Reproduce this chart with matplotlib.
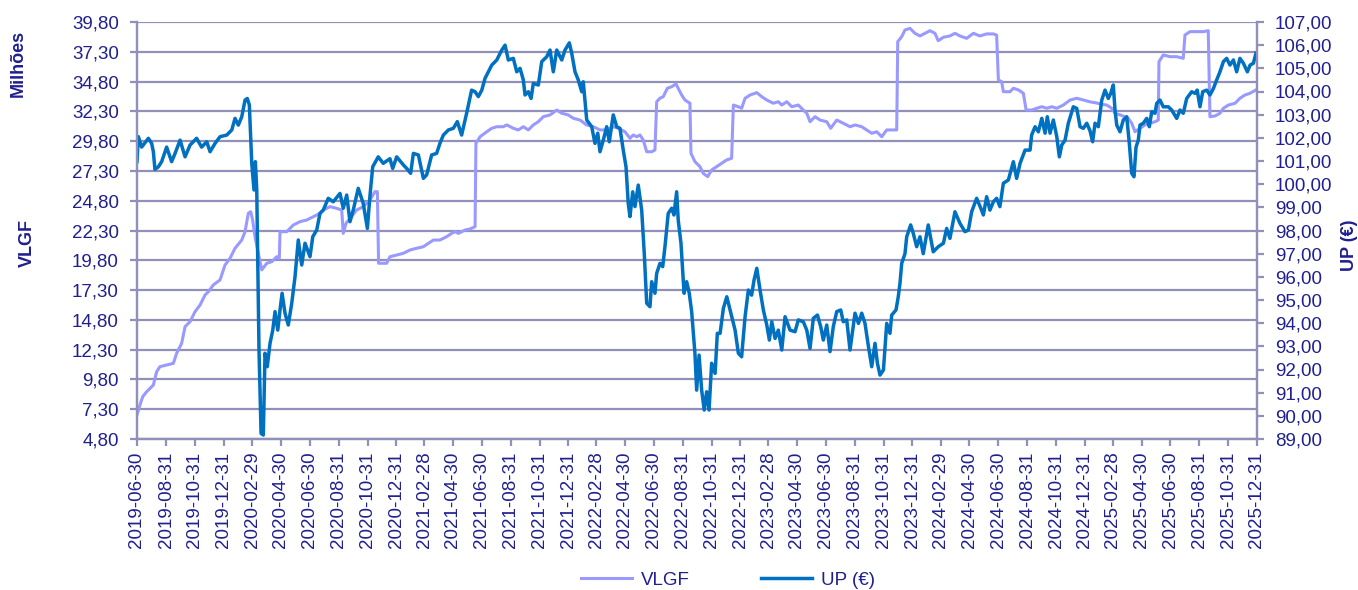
import matplotlib
matplotlib.use('Agg')
import matplotlib.pyplot as plt
import matplotlib.ticker as mticker
import numpy as np
import pandas as pd

plt.rcParams['font.family'] = ['Liberation Sans', 'DejaVu Sans']

# dates as decimal years (2019.5 = 2019-06-30, 2026.0 = 2025-12-31)
up_t = [2019.500, 2019.508, 2019.527, 2019.566, 2019.585, 2019.595, 2019.604, 2019.624, 2019.643, 2019.672,
        2019.701, 2019.721, 2019.750, 2019.779, 2019.808, 2019.846, 2019.875, 2019.905, 2019.924, 2019.953,
        2019.982, 2020.021, 2020.050, 2020.069, 2020.088, 2020.108, 2020.127, 2020.140, 2020.152, 2020.166,
        2020.179, 2020.187, 2020.195, 2020.208, 2020.220, 2020.233, 2020.243, 2020.256, 2020.272, 2020.288,
        2020.301, 2020.317, 2020.330, 2020.342, 2020.359, 2020.378, 2020.398, 2020.417, 2020.436, 2020.456,
        2020.475, 2020.504, 2020.520, 2020.543, 2020.562, 2020.581, 2020.610, 2020.639, 2020.678, 2020.697,
        2020.717, 2020.736, 2020.755, 2020.784, 2020.813, 2020.837, 2020.852, 2020.868, 2020.900, 2020.929,
        2020.968, 2020.984, 2021.007, 2021.046, 2021.065, 2021.088, 2021.104, 2021.133, 2021.162, 2021.181,
        2021.210, 2021.239, 2021.258, 2021.278, 2021.307, 2021.336, 2021.359, 2021.384, 2021.413, 2021.442,
        2021.462, 2021.481, 2021.501, 2021.520, 2021.539, 2021.559, 2021.588, 2021.617, 2021.636, 2021.655,
        2021.684, 2021.704, 2021.723, 2021.742, 2021.752, 2021.771, 2021.787, 2021.800, 2021.829, 2021.849,
        2021.878, 2021.897, 2021.916, 2021.936, 2021.965, 2021.984, 2022.009, 2022.023, 2022.042, 2022.061,
        2022.081, 2022.090, 2022.110, 2022.139, 2022.158, 2022.174, 2022.187, 2022.206, 2022.226, 2022.241,
        2022.264, 2022.284, 2022.303, 2022.322, 2022.338, 2022.351, 2022.361, 2022.377, 2022.390, 2022.409,
        2022.429, 2022.444, 2022.458, 2022.477, 2022.487, 2022.506, 2022.516, 2022.535, 2022.551, 2022.564,
        2022.583, 2022.603, 2022.616, 2022.632, 2022.641, 2022.657, 2022.675, 2022.690, 2022.705, 2022.719,
        2022.738, 2022.748, 2022.762, 2022.777, 2022.792, 2022.806, 2022.820, 2022.835, 2022.855, 2022.868,
        2022.884, 2022.903, 2022.923, 2022.942, 2022.971, 2022.990, 2023.009, 2023.029, 2023.048, 2023.067,
        2023.081, 2023.097, 2023.116, 2023.135, 2023.155, 2023.170, 2023.184, 2023.203, 2023.222, 2023.242,
        2023.261, 2023.290, 2023.319, 2023.338, 2023.367, 2023.387, 2023.406, 2023.425, 2023.449, 2023.468,
        2023.483, 2023.503, 2023.522, 2023.541, 2023.561, 2023.584, 2023.599, 2023.619, 2023.638, 2023.667,
        2023.687, 2023.706, 2023.725, 2023.745, 2023.764, 2023.783, 2023.797, 2023.812, 2023.832, 2023.851,
        2023.870, 2023.880, 2023.905, 2023.918, 2023.928, 2023.938, 2023.957, 2023.967, 2023.990, 2024.005,
        2024.025, 2024.044, 2024.063, 2024.092, 2024.121, 2024.150, 2024.180, 2024.199, 2024.218, 2024.247,
        2024.276, 2024.305, 2024.325, 2024.344, 2024.373, 2024.397, 2024.412, 2024.431, 2024.450, 2024.470,
        2024.489, 2024.508, 2024.528, 2024.557, 2024.586, 2024.605, 2024.625, 2024.654, 2024.683, 2024.692,
        2024.712, 2024.731, 2024.751, 2024.770, 2024.783, 2024.799, 2024.818, 2024.838, 2024.853, 2024.867,
        2024.886, 2024.905, 2024.934, 2024.954, 2024.973, 2024.992, 2025.012, 2025.031, 2025.046, 2025.060,
        2025.079, 2025.099, 2025.118, 2025.137, 2025.151, 2025.166, 2025.176, 2025.186, 2025.205, 2025.224,
        2025.244, 2025.259, 2025.273, 2025.286, 2025.298, 2025.311, 2025.321, 2025.340, 2025.360, 2025.375,
        2025.389, 2025.408, 2025.418, 2025.437, 2025.456, 2025.485, 2025.505, 2025.534, 2025.553, 2025.572,
        2025.592, 2025.621, 2025.640, 2025.653, 2025.669, 2025.685, 2025.708, 2025.727, 2025.747, 2025.766,
        2025.785, 2025.805, 2025.824, 2025.843, 2025.863, 2025.882, 2025.901, 2025.921, 2025.944, 2025.960,
        2025.979, 2025.994]
up_v = [100.97, 102.05, 101.60, 101.98, 101.76, 101.40, 100.64, 100.75, 100.97, 101.60,
        100.97, 101.33, 101.90, 101.18, 101.69, 101.98, 101.60, 101.83, 101.40, 101.76,
        102.05, 102.12, 102.34, 102.84, 102.55, 102.91, 103.63, 103.70, 103.42, 100.90,
        99.75, 100.97, 99.75, 92.84, 89.24, 89.17, 92.70, 92.12, 93.13, 93.70,
        94.50, 93.70, 94.57, 95.29, 94.43, 93.92, 94.86, 96.00, 97.59, 96.51,
        97.45, 96.87, 97.73, 98.02, 98.74, 98.88, 99.39, 99.24, 99.60, 98.96,
        99.53, 98.38, 98.88, 99.82, 99.17, 98.09, 99.50, 100.75, 101.18, 100.90,
        101.10, 100.68, 101.18, 100.83, 100.68, 100.47, 101.33, 101.26, 100.25, 100.40,
        101.26, 101.33, 101.76, 102.12, 102.34, 102.41, 102.70, 102.12, 103.06, 104.06,
        103.99, 103.78, 104.06, 104.57, 104.85, 105.14, 105.36, 105.79, 106.00, 105.36,
        105.43, 104.85, 105.00, 104.50, 103.85, 103.99, 103.70, 104.35, 104.28, 105.29,
        105.50, 105.79, 104.85, 105.79, 105.36, 105.79, 106.10, 105.65, 104.85, 104.50,
        103.99, 104.42, 102.77, 102.48, 101.76, 102.20, 101.40, 101.90, 102.48, 101.83,
        102.99, 102.48, 102.41, 101.47, 100.75, 99.17, 98.60, 99.67, 99.03, 99.96,
        98.88, 97.00, 94.86, 94.71, 95.79, 95.29, 96.15, 96.58, 96.44, 97.30,
        98.74, 98.96, 98.67, 99.67, 98.45, 97.45, 95.29, 95.79, 95.29, 94.50,
        92.70, 91.11, 92.62, 91.11, 90.25, 91.04, 90.25, 92.27, 91.83, 93.56,
        93.56, 94.64, 95.14, 94.57, 93.70, 92.70, 92.55, 94.28, 95.43, 95.21,
        95.86, 96.37, 95.43, 94.57, 93.92, 93.27, 94.06, 93.34, 93.70, 92.84,
        94.28, 93.70, 93.63, 94.14, 94.06, 93.70, 92.91, 94.21, 94.35, 93.85,
        93.27, 93.92, 92.77, 93.85, 94.50, 94.57, 94.06, 94.14, 92.84, 94.43,
        93.99, 94.43, 93.99, 92.99, 92.12, 93.13, 92.27, 91.76, 91.98, 93.99,
        93.56, 94.35, 94.57, 95.14, 95.72, 96.58, 97.00, 97.73, 98.24, 97.88,
        97.30, 97.73, 97.00, 98.24, 97.08, 97.30, 97.45, 98.09, 97.66, 98.81,
        98.31, 97.95, 98.02, 98.81, 99.39, 98.96, 98.67, 99.46, 98.88, 99.24,
        99.39, 99.03, 100.04, 100.18, 100.97, 100.25, 100.90, 101.47, 101.47, 102.12,
        102.48, 102.26, 102.84, 102.20, 102.91, 102.20, 102.77, 102.05, 101.18, 101.69,
        101.90, 102.63, 103.34, 103.27, 102.48, 102.41, 102.63, 102.30, 101.83, 102.63,
        102.48, 103.63, 104.06, 103.70, 103.92, 104.28, 103.20, 102.55, 102.26, 102.77,
        102.91, 101.76, 100.47, 100.32, 101.60, 101.90, 102.55, 102.63, 102.84, 102.48,
        103.13, 103.06, 103.49, 103.63, 103.34, 103.34, 103.20, 102.84, 103.20, 103.06,
        103.70, 103.99, 103.92, 104.06, 103.34, 103.99, 104.06, 103.85, 104.13, 104.50,
        104.85, 105.29, 105.43, 105.14, 105.36, 104.85, 105.43, 105.22, 104.85, 105.14,
        105.22, 105.65]

vlgf_t = [2019.500, 2019.517, 2019.533, 2019.556, 2019.595, 2019.614, 2019.633, 2019.672, 2019.711, 2019.730,
          2019.759, 2019.779, 2019.808, 2019.837, 2019.866, 2019.895, 2019.914, 2019.943, 2019.982, 2020.011,
          2020.040, 2020.069, 2020.108, 2020.127, 2020.146, 2020.160, 2020.171, 2020.185, 2020.204, 2020.224,
          2020.253, 2020.282, 2020.311, 2020.326, 2020.330, 2020.369, 2020.407, 2020.446, 2020.485, 2020.523,
          2020.562, 2020.581, 2020.620, 2020.659, 2020.688, 2020.697, 2020.713, 2020.736, 2020.775, 2020.813,
          2020.852, 2020.881, 2020.895, 2020.902, 2020.949, 2020.968, 2021.007, 2021.046, 2021.084, 2021.123,
          2021.162, 2021.191, 2021.220, 2021.258, 2021.297, 2021.326, 2021.346, 2021.365, 2021.404, 2021.433,
          2021.462, 2021.467, 2021.491, 2021.530, 2021.559, 2021.588, 2021.626, 2021.646, 2021.684, 2021.713,
          2021.742, 2021.771, 2021.800, 2021.829, 2021.858, 2021.897, 2021.936, 2021.965, 2022.003, 2022.032,
          2022.071, 2022.110, 2022.148, 2022.187, 2022.226, 2022.264, 2022.293, 2022.332, 2022.361, 2022.380,
          2022.400, 2022.419, 2022.438, 2022.458, 2022.487, 2022.506, 2022.516, 2022.535, 2022.554, 2022.578,
          2022.603, 2022.628, 2022.641, 2022.661, 2022.680, 2022.709, 2022.715, 2022.738, 2022.767, 2022.786,
          2022.812, 2022.835, 2022.864, 2022.893, 2022.922, 2022.951, 2022.961, 2022.990, 2023.009, 2023.029,
          2023.058, 2023.097, 2023.126, 2023.155, 2023.193, 2023.222, 2023.242, 2023.271, 2023.300, 2023.338,
          2023.367, 2023.387, 2023.406, 2023.435, 2023.464, 2023.503, 2023.526, 2023.561, 2023.599, 2023.638,
          2023.667, 2023.706, 2023.735, 2023.764, 2023.793, 2023.822, 2023.851, 2023.880, 2023.909, 2023.915,
          2023.938, 2023.957, 2023.986, 2024.015, 2024.044, 2024.073, 2024.102, 2024.131, 2024.150, 2024.180,
          2024.218, 2024.247, 2024.276, 2024.315, 2024.354, 2024.392, 2024.431, 2024.470, 2024.489, 2024.499,
          2024.518, 2024.528, 2024.567, 2024.586, 2024.615, 2024.644, 2024.660, 2024.692, 2024.722, 2024.751,
          2024.780, 2024.809, 2024.838, 2024.876, 2024.915, 2024.954, 2024.992, 2025.031, 2025.070, 2025.099,
          2025.128, 2025.157, 2025.176, 2025.205, 2025.234, 2025.253, 2025.273, 2025.292, 2025.321, 2025.350,
          2025.379, 2025.408, 2025.427, 2025.431, 2025.456, 2025.495, 2025.534, 2025.572, 2025.582, 2025.611,
          2025.650, 2025.688, 2025.717, 2025.727, 2025.756, 2025.785, 2025.805, 2025.834, 2025.873, 2025.901,
          2025.930, 2025.960, 2025.994]
vlgf_v = [6.82, 7.65, 8.35, 8.77, 9.33, 10.45, 10.87, 11.01, 11.15, 11.99,
          12.83, 14.23, 14.65, 15.49, 16.05, 16.89, 17.16, 17.73, 18.15, 19.41,
          19.97, 20.81, 21.50, 22.20, 23.74, 23.88, 23.18, 21.78, 20.39, 18.99,
          19.55, 19.68, 20.10, 19.97, 22.20, 22.20, 22.76, 23.04, 23.18, 23.46,
          23.74, 24.02, 24.30, 24.16, 24.02, 22.06, 22.90, 23.32, 24.02, 24.30,
          24.86, 25.56, 25.56, 19.55, 19.55, 20.10, 20.24, 20.39, 20.66, 20.81,
          20.94, 21.22, 21.50, 21.50, 21.78, 22.06, 22.20, 22.06, 22.34, 22.43,
          22.62, 29.62, 30.17, 30.59, 30.88, 31.01, 31.01, 31.16, 30.88, 30.74,
          31.01, 30.74, 31.16, 31.43, 31.85, 32.00, 32.41, 32.14, 32.00, 31.72,
          31.57, 31.16, 31.01, 30.74, 30.74, 31.01, 30.88, 30.59, 30.04, 30.32,
          30.17, 30.32, 29.90, 28.91, 28.91, 29.06, 33.11, 33.40, 33.53, 34.24,
          34.37, 34.60, 34.24, 33.67, 33.25, 32.98, 28.78, 28.08, 27.66, 27.10,
          26.82, 27.38, 27.66, 27.94, 28.22, 28.36, 32.83, 32.69, 32.56, 33.40,
          33.67, 33.87, 33.53, 33.25, 32.98, 33.11, 32.83, 33.11, 32.69, 32.83,
          32.41, 32.14, 31.43, 31.85, 31.57, 31.43, 30.88, 31.57, 31.30, 31.01,
          31.16, 31.01, 30.74, 30.46, 30.59, 30.17, 30.74, 30.74, 30.74, 38.15,
          38.57, 39.13, 39.27, 38.85, 38.63, 38.85, 39.07, 38.85, 38.23, 38.52,
          38.63, 38.85, 38.63, 38.43, 38.85, 38.63, 38.80, 38.80, 38.70, 34.93,
          34.79, 33.95, 33.95, 34.24, 34.10, 33.82, 32.41, 32.41, 32.56, 32.69,
          32.56, 32.69, 32.56, 32.83, 33.25, 33.40, 33.25, 33.10, 33.00, 32.89,
          32.83, 32.56, 32.14, 32.00, 31.85, 31.72, 31.30, 30.59, 30.88, 31.16,
          31.30, 31.43, 31.57, 36.47, 37.03, 36.89, 36.89, 36.75, 38.71, 38.99,
          38.99, 38.99, 39.07, 31.85, 31.91, 32.14, 32.56, 32.83, 32.98, 33.40,
          33.67, 33.82, 34.10]

START = pd.Timestamp('2019-06-30')
END = pd.Timestamp('2025-12-31')


def to_dates(years):
    span = (END - START).days
    return [START + pd.Timedelta(days=(y - 2019.5) / 6.5 * span) for y in years]


navy = '#1F1F8F'
grid_col = '#9090B8'
c_vlgf = '#9999FF'
c_up = '#0070C0'


def comma_fmt(v, pos):
    return f'{v:.2f}'.replace('.', ',')


fig = plt.figure(figsize=(13.58, 5.90), dpi=100)
ax = fig.add_axes([137 / 1358, 1 - 439 / 590, 1120 / 1358, 417 / 590])
ax2 = ax.twinx()

ax.plot(to_dates(vlgf_t), vlgf_v, color=c_vlgf, lw=2.2, label='VLGF')
ax2.plot(to_dates(up_t), up_v, color=c_up, lw=2.5, label='UP (€)')

ax.set_xlim(START, END)
ax.set_ylim(4.8, 39.8)
ax2.set_ylim(89, 107)
ax.set_yticks(np.arange(4.8, 39.81, 2.5))
ax2.set_yticks(np.arange(89, 107.1, 1))
ax.yaxis.set_major_formatter(mticker.FuncFormatter(comma_fmt))
ax2.yaxis.set_major_formatter(mticker.FuncFormatter(comma_fmt))

ticks = pd.date_range(START, END, freq='2ME')
ax.set_xticks(ticks)
ax.set_xticklabels([d.strftime('%Y-%m-%d') for d in ticks], rotation=90)

ax.grid(axis='y', color=grid_col, lw=1.6)
ax.set_axisbelow(True)

for a in (ax, ax2):
    for s in a.spines.values():
        s.set_color(grid_col)
        s.set_linewidth(1.6)
    a.spines['top'].set_visible(False)
    a.tick_params(colors=grid_col, labelcolor=navy, labelsize=13.5, width=1.6, length=5)
ax.tick_params(axis='y', pad=8)
ax2.tick_params(axis='y', pad=8)
ax.tick_params(axis='x', pad=4)

fig.text(18 / 1358, 1 - 63 / 590, 'Milhões', rotation=90, ha='center', va='center',
         color=navy, fontsize=13, fontweight='bold')
fig.text(27 / 1358, 1 - 243 / 590, 'VLGF', rotation=90, ha='center', va='center',
         color=navy, fontsize=13, fontweight='bold')
fig.text(1349 / 1358, 1 - 245 / 590, 'UP (€)', rotation=90, ha='center', va='center',
         color=navy, fontsize=13, fontweight='bold')

h1, l1 = ax.get_legend_handles_labels()
h2, l2 = ax2.get_legend_handles_labels()
leg = fig.legend(h1 + h2, l1 + l2, loc='center', bbox_to_anchor=(728 / 1358, 1 - 580 / 590), ncol=2,
                 frameon=False, fontsize=13.5, handlelength=2.7, handletextpad=0.5, columnspacing=3.8)
for t in leg.get_texts():
    t.set_color(navy)

fig.savefig('out.png', dpi=100)
